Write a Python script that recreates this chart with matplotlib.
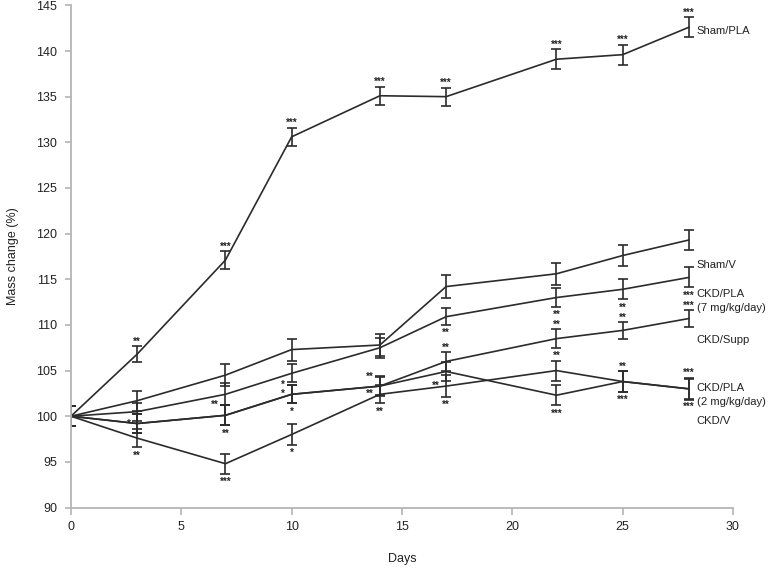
import numpy as np
import matplotlib
matplotlib.use('Agg')
import matplotlib.pyplot as plt

plt.rcParams['font.family'] = ['Liberation Sans', 'DejaVu Sans']

#Tage
days = [0, 3, 7, 10, 14, 17, 22, 25, 28]

#Massenaenderung (%) je Gruppe
sham_pla = [100, 106.8, 117.1, 130.6, 135.1, 135.0, 139.1, 139.6, 142.6]
sham_v = [100, 101.7, 104.5, 107.3, 107.8, 114.2, 115.6, 117.6, 119.3]
ckd_pla7 = [100, 100.5, 102.4, 104.7, 107.5, 110.9, 113.0, 113.9, 115.2]
ckd_supp = [100, 99.2, 100.1, 102.4, 103.3, 106.0, 108.5, 109.4, 110.7]
ckd_pla2 = [100, 99.2, 100.1, 102.4, 103.3, 104.9, 102.3, 103.8, 103.0]
ckd_v = [100, 97.6, 94.8, 98.0, 102.4, 103.3, 105.0, 103.8, 103.0]

#Fehlerbalken
err_sham_pla = [1.1, 0.9, 1.0, 1.0, 1.0, 1.0, 1.1, 1.1, 1.1]
err_sham_v = [1.1, 1.1, 1.2, 1.2, 1.2, 1.3, 1.2, 1.2, 1.1]
err_ckd_pla7 = [1.1, 1.0, 1.2, 1.0, 1.1, 0.9, 1.0, 1.1, 1.1]
err_ckd_supp = [1.1, 1.0, 1.1, 1.0, 1.0, 1.0, 1.0, 0.9, 0.9]
err_ckd_pla2 = [1.1, 1.0, 1.1, 1.0, 1.1, 1.0, 1.1, 1.1, 1.1]
err_ckd_v = [1.1, 1.0, 1.1, 1.1, 1.0, 1.2, 1.1, 1.1, 1.2]

labels = ['Sham/PLA', 'Sham/V', 'CKD/PLA\n(7 mg/kg/day)', 'CKD/Supp',
          'CKD/PLA\n(2 mg/kg/day)', 'CKD/V']

series = [sham_pla, sham_v, ckd_pla7, ckd_supp, ckd_pla2, ckd_v]
errors = [err_sham_pla, err_sham_v, err_ckd_pla7, err_ckd_supp, err_ckd_pla2, err_ckd_v]

#Signifikanz-Sterne: (Gruppe, Tag, Text, Lage)
stars = [
    (0, 3, '**', 'a'), (0, 7, '***', 'a'), (0, 10, '***', 'a'), (0, 14, '***', 'a'),
    (0, 17, '***', 'a'), (0, 22, '***', 'a'), (0, 25, '***', 'a'), (0, 28, '***', 'a'),
    (2, 17, '**', 'b'), (2, 22, '**', 'b'), (2, 25, '**', 'b'), (2, 28, '***', 'b'),
    (3, 17, '**', 'a'), (3, 22, '**', 'a'), (3, 25, '**', 'a'), (3, 28, '***', 'a'),
    (3, 7, '**', 'lu'), (3, 10, '*', 'lu'), (3, 14, '**', 'lu'),
    (4, 3, '*', 'l'), (4, 10, '*', 'l'), (4, 7, '**', 'b'), (4, 10, '*', 'b'),
    (4, 22, '***', 'b'), (4, 25, '***', 'b'), (4, 28, '***', 'b'),
    (5, 14, '**', 'l'), (5, 17, '**', 'l'),
    (5, 3, '**', 'b'), (5, 7, '***', 'b'), (5, 10, '*', 'b'), (5, 14, '**', 'b'),
    (5, 17, '**', 'b'), (5, 22, '**', 'a'), (5, 25, '**', 'a'), (5, 28, '***', 'a'),
]

#Versatz der Beschriftung rechts (in %)
label_shift = [-0.4, -2.7, -2.6, -2.4, -0.7, -3.5]

line_col = '#2b2b2b'
axis_col = '#b4b4b4'
text_col = '#222222'

fig = plt.figure(figsize=(7.68, 5.7), dpi=100)
ax = fig.add_axes([0.0924, 0.1096, 0.862, 0.881])

for y, e in zip(series, errors):
    ax.errorbar(days, y, yerr=e, color=line_col, lw=1.2, elinewidth=1.2,
                capsize=3.5, capthick=1.2)

for i, d, txt, pos in stars:
    k = days.index(d)
    v = series[i][k]
    e = errors[i][k]
    if pos == 'a':
        ax.text(d, v + e + 0.5, txt, ha='center', va='center', fontsize=7,
                fontweight='bold', color=text_col)
    elif pos == 'b':
        ax.text(d, v - e - 0.9, txt, ha='center', va='center', fontsize=7,
                fontweight='bold', color=text_col)
    elif pos == 'lu':
        ax.text(d - 0.3, v + e, txt, ha='right', va='center', fontsize=7,
                fontweight='bold', color=text_col)
    else:
        ax.text(d - 0.3, v, txt, ha='right', va='center', fontsize=7,
                fontweight='bold', color=text_col)

for y, lab, s in zip(series, labels, label_shift):
    ax.text(28.35, y[-1] + s, lab, ha='left', va='center', fontsize=8.1,
            color=text_col, clip_on=False, linespacing=1.55)

ax.set_xlim(0, 30)
ax.set_ylim(90, 145)
ax.set_xticks(np.arange(0, 31, 5))
ax.set_yticks(np.arange(90, 146, 5))

for s in ['top', 'right']:
    ax.spines[s].set_visible(False)
for s in ['left', 'bottom']:
    ax.spines[s].set_color(axis_col)
    ax.spines[s].set_linewidth(1.3)

ax.tick_params(axis='y', direction='out', length=4, width=1.2, color=axis_col,
               labelsize=9, labelcolor=text_col, pad=6)
ax.tick_params(axis='x', direction='out', length=5, width=1.2, color=axis_col,
               labelsize=9, labelcolor=text_col, pad=5)

ax.set_xlabel('Days', fontsize=9, color=text_col, labelpad=14)
ax.set_ylabel('Mass change (%)', fontsize=9, color=text_col, labelpad=12)

fig.savefig('out.png', dpi=100)
